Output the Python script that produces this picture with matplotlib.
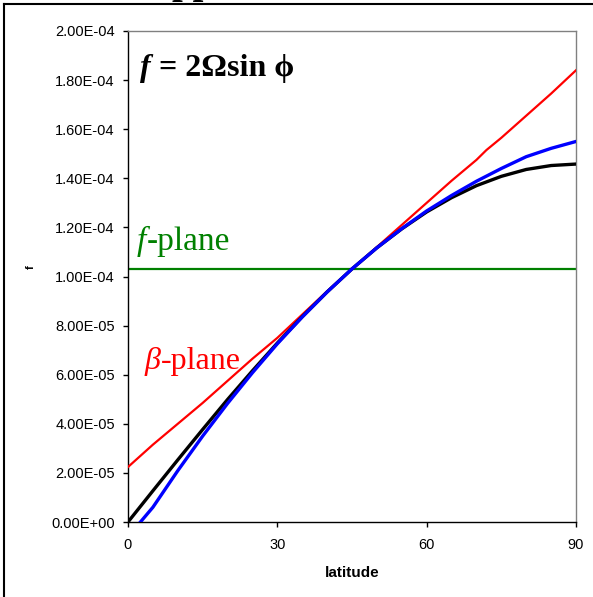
import matplotlib
matplotlib.use("Agg")
import matplotlib.pyplot as plt
from matplotlib.lines import Line2D

# ---- data ----
lat = [0, 5, 10, 15, 20, 25, 30, 35, 40, 45, 50, 55, 60, 65, 70, 75, 80, 85, 90]
f_exact = [0.0, 1.27e-5, 2.53e-5, 3.77e-5, 4.99e-5, 6.16e-5, 7.29e-5, 8.36e-5, 9.37e-5,
           1.031e-4, 1.117e-4, 1.194e-4, 1.263e-4, 1.321e-4, 1.370e-4, 1.408e-4,
           1.436e-4, 1.452e-4, 1.458e-4]
lat_blue = [2.5, 5, 10, 15, 20, 25, 30, 35, 40, 45, 50, 55, 60, 65, 70, 75, 80, 85, 90]
f_taylor = [0.0, 0.6e-5, 2.09e-5, 3.50e-5, 4.83e-5, 6.08e-5, 7.26e-5, 8.35e-5, 9.37e-5,
            1.031e-4, 1.117e-4, 1.195e-4, 1.267e-4, 1.33e-4, 1.388e-4, 1.44e-4,
            1.488e-4, 1.522e-4, 1.550e-4]
lat_red = [0, 5, 10, 15, 20, 25, 30, 35, 40, 45, 50, 55, 60, 65, 70, 72, 75, 80, 85, 90]
f_beta = [2.24e-5, 3.15e-5, 4.0e-5, 4.85e-5, 5.75e-5, 6.65e-5, 7.5e-5, 8.45e-5, 9.4e-5,
          1.03e-4, 1.12e-4, 1.21e-4, 1.30e-4, 1.39e-4, 1.475e-4, 1.515e-4, 1.565e-4,
          1.655e-4, 1.745e-4, 1.84e-4]
f0 = 1.03e-4
xticks = [0, 30, 60, 90]
yticks = [i * 2e-5 for i in range(11)]
ytick_labels = ["0.00E+00", "2.00E-05", "4.00E-05", "6.00E-05", "8.00E-05", "1.00E-04",
                "1.20E-04", "1.40E-04", "1.60E-04", "1.80E-04", "2.00E-04"]

W, H = 593, 597
fig = plt.figure(figsize=(W / 100, H / 100), dpi=100)
ax = fig.add_axes([128 / W, 1 - 522 / H, 448 / W, 491 / H])

ax.plot(lat_red, f_beta, color="#ff0000", lw=1.6, zorder=3)
ax.axhline(f0, color="#008000", lw=1.6, zorder=2)
ax.plot(lat, f_exact, color="black", lw=2.4, zorder=4)
ax.plot(lat_blue, f_taylor, color="#0000ff", lw=2.4, zorder=5)

ax.set_xlim(0, 90)
ax.set_ylim(0, 2e-4)
ax.set_xticks(xticks)
ax.set_xticklabels([str(v) for v in xticks])
ax.set_yticks(yticks)
ax.set_yticklabels(ytick_labels)

sans = "Liberation Sans"
for lbl in ax.get_xticklabels() + ax.get_yticklabels():
    lbl.set_fontfamily(sans)
    lbl.set_fontsize(10.5)
ax.tick_params(axis="both", direction="out", length=3.5, width=1, color="black")
ax.tick_params(axis="y", pad=6)
ax.tick_params(axis="x", pad=8)

for s in ("top", "right"):
    ax.spines[s].set_color("#808080")
    ax.spines[s].set_linewidth(1.0)
for s in ("left", "bottom"):
    ax.spines[s].set_color("black")
    ax.spines[s].set_linewidth(1.0)

ax.set_xlabel("latitude", fontfamily=sans, fontweight="bold", fontsize=11, labelpad=10)
fig.text(31 / W, 1 - 267 / H, "f", rotation=90, fontfamily=sans, fontweight="bold",
         fontsize=8, ha="center", va="center")

serif = ["Liberation Serif", "DejaVu Serif"]
renderer = fig.canvas.get_renderer()


def chain(x_px, y_px, parts, size, color, weight="normal"):
    """Place text pieces one after another, starting at pixel x (from left), y (from top)."""
    x = x_px
    for txt, style in parts:
        t = fig.text(x / W, 1 - y_px / H, txt, fontfamily=serif, fontstyle=style,
                     fontweight=weight, fontsize=size, color=color, ha="left", va="baseline")
        bb = t.get_window_extent(renderer=renderer)
        x = bb.x1


chain(140, 76, [("f", "italic"), (" = 2\u03a9sin \u03d5", "normal")], 23, "black", "bold")
chain(137, 250, [("f", "italic"), ("-plane", "normal")], 24, "#008000")
chain(145, 369, [("\u03b2", "italic"), ("-plane", "normal")], 23, "#ff0000")

# fragment of a title cut off at the top edge (as in the reference)
fig.text(172 / W, 1 + 7 / H, "pp", fontfamily=serif, fontweight="bold", fontsize=28,
         color="black", ha="left", va="baseline")

# outer frame (left and top edges visible)
fig.add_artist(Line2D([4 / W, 4 / W], [0, 1 - 4 / H], color="black", lw=1.5,
                      transform=fig.transFigure))
fig.add_artist(Line2D([4 / W, 1], [1 - 4 / H, 1 - 4 / H], color="black", lw=1.5,
                      transform=fig.transFigure))

fig.savefig("out.png", dpi=100)
